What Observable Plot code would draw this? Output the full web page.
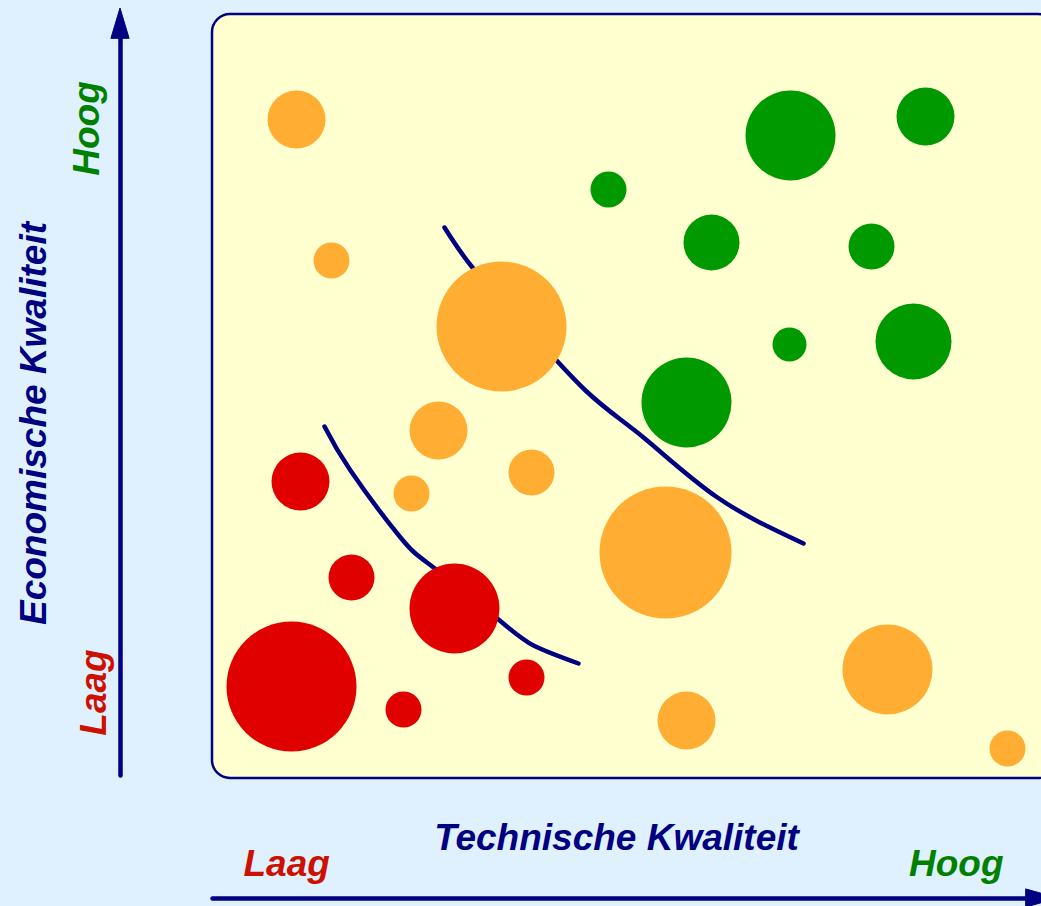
<!DOCTYPE html>
<html>
<head>
<meta charset="utf-8">
<script src="https://cdn.jsdelivr.net/npm/d3@7"></script>
<script src="https://cdn.jsdelivr.net/npm/@observablehq/plot@0.6"></script>
<style>
  html, body { margin: 0; padding: 0; background: #dff0ff; overflow: hidden; }
  #chart svg { display: block; }
</style>
</head>
<body>
<div id="chart"></div>
<script>
// ---- Data (units: technische / economische kwaliteit, panel-relative) ----
const bubbleTech = [84, 119, 289, 226, 319, 199, 453, 675, 474, 795,
                    396, 578, 713, 499, 659, 701, 577, 474,
                    88, 139, 242, 79, 314, 191];
const bubbleEcon = [659, 518, 452, 348, 306, 285, 226, 109, 58, 30,
                    589, 643, 662, 536, 532, 437, 434, 376,
                    297, 201, 170, 92, 101, 69];
const bubbleSize = [29, 18, 65, 29, 23, 18, 66, 45, 29, 18,
                    18, 45, 29, 28, 23, 38, 17, 45,
                    29, 23, 45, 65, 18, 18];
const bubbleClass = ["Midden","Midden","Midden","Midden","Midden","Midden","Midden","Midden","Midden","Midden",
                     "Hoog","Hoog","Hoog","Hoog","Hoog","Hoog","Hoog","Hoog",
                     "Laag","Laag","Laag","Laag","Laag","Laag"];
const classes = ["Laag", "Midden", "Hoog"];

// boundary curves
const upperTech = [232, 260, 308, 373, 431, 505, 591];
const upperEcon = [551, 511, 458, 388, 341, 281, 235];
const lowerTech = [112, 138, 188, 221, 286, 321, 366];
const lowerEcon = [352, 308, 241, 211, 159, 133, 115];

// axis labels
const xTitle = "Technische Kwaliteit";
const yTitle = "Economische Kwaliteit";
const lowLabel = "Laag";
const highLabel = "Hoog";

// panel & axis extents (data units)
const panelX = [0, 844];
const panelY = [0, 764];
const yAxisArrow = {x: -92, y1: 3, yBase: 740, yTip: 770, half: 9};
const xAxisArrow = {y: -120, x1: 0, xBase: 814, xTip: 846, half: 9};

// ---- build tables ----
const bubbles = bubbleTech.map((t, i) => ({tech: t, econ: bubbleEcon[i], size: bubbleSize[i], klasse: bubbleClass[i]}));
const upper = upperTech.map((t, i) => ({tech: t, econ: upperEcon[i]}));
const lower = lowerTech.map((t, i) => ({tech: t, econ: lowerEcon[i]}));

const navy = "#000080";
const fontFamily = "'Liberation Sans', Arial, Helvetica, sans-serif";

const textCommon = {fontFamily: fontFamily, fontSize: 37, fontWeight: "bold", fontStyle: "italic", lineAnchor: "bottom"};

const chart = Plot.plot({
  width: 1041,
  height: 906,
  marginLeft: 212,
  marginRight: 0,
  marginTop: 14,
  marginBottom: 128,
  style: {background: "#dff0ff", overflow: "hidden"},
  x: {domain: [0, 829], axis: null},
  y: {domain: [0, 764], axis: null},
  r: {type: "linear", domain: [0, 66], range: [0, 66]},
  color: {domain: classes, range: ["#e00000", "#ffad33", "#009900"]},
  marks: [
    // panel
    Plot.rect([{x1: panelX[0], x2: panelX[1], y1: panelY[0], y2: panelY[1]}],
      {x1: "x1", x2: "x2", y1: "y1", y2: "y2", fill: "#ffffd0", stroke: navy, strokeWidth: 2.5, rx: 18}),
    // boundaries
    Plot.line(upper, {x: "tech", y: "econ", stroke: navy, strokeWidth: 4.5, curve: "natural", strokeLinecap: "round"}),
    Plot.line(lower, {x: "tech", y: "econ", stroke: navy, strokeWidth: 4.5, curve: "natural", strokeLinecap: "round"}),
    // bubbles
    Plot.dot(bubbles, {x: "tech", y: "econ", r: "size", fill: "klasse", stroke: "none"}),
    // y axis arrow
    Plot.link([yAxisArrow], {x1: "x", x2: "x", y1: "y1", y2: "yBase", stroke: navy, strokeWidth: 4.5, strokeLinecap: "round"}),
    Plot.areaX([
      {y: yAxisArrow.yBase, x1: yAxisArrow.x - yAxisArrow.half, x2: yAxisArrow.x + yAxisArrow.half},
      {y: yAxisArrow.yTip, x1: yAxisArrow.x, x2: yAxisArrow.x}
    ], {y: "y", x1: "x1", x2: "x2", fill: navy, stroke: navy, strokeWidth: 1, strokeLinejoin: "round"}),
    // x axis arrow
    Plot.link([xAxisArrow], {x1: "x1", x2: "xBase", y1: "y", y2: "y", stroke: navy, strokeWidth: 4.5, strokeLinecap: "round"}),
    Plot.areaY([
      {x: xAxisArrow.xBase, y1: xAxisArrow.y - xAxisArrow.half, y2: xAxisArrow.y + xAxisArrow.half},
      {x: xAxisArrow.xTip, y1: xAxisArrow.y, y2: xAxisArrow.y}
    ], {x: "x", y1: "y1", y2: "y2", fill: navy, stroke: navy, strokeWidth: 1, strokeLinejoin: "round"}),
    // titles
    Plot.text([xTitle], {x: 404, y: -71, text: d => d, fill: navy, textAnchor: "middle", ...textCommon}),
    Plot.text([lowLabel], {x: 31, y: -97, text: d => d, fill: "#cc1100", textAnchor: "start", ...textCommon}),
    Plot.text([highLabel], {x: 791, y: -97, text: d => d, fill: "#008000", textAnchor: "end", ...textCommon}),
    Plot.text([yTitle], {x: -167, y: 355, text: d => d, fill: navy, rotate: -90, textAnchor: "middle", ...textCommon}),
    Plot.text([highLabel], {x: -114, y: 650, text: d => d, fill: "#008000", rotate: -90, textAnchor: "middle", ...textCommon}),
    Plot.text([lowLabel], {x: -107, y: 86, text: d => d, fill: "#cc1100", rotate: -90, textAnchor: "middle", ...textCommon})
  ]
});
document.getElementById("chart").appendChild(chart);
</script>
</body>
</html>
